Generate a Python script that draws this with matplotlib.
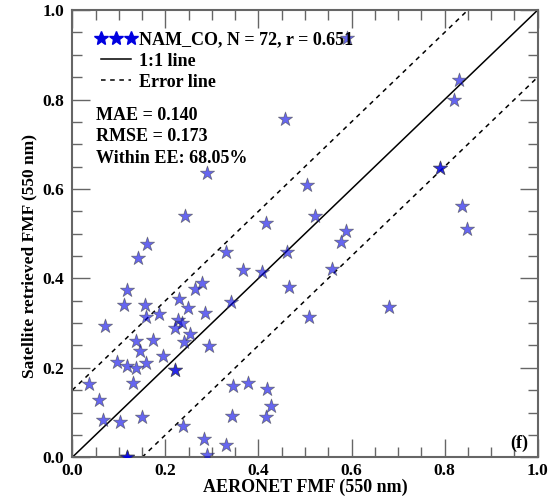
import matplotlib
matplotlib.use("Agg")
import matplotlib.pyplot as plt
from matplotlib.lines import Line2D
from matplotlib.legend_handler import HandlerLine2D
from matplotlib.ticker import MultipleLocator

# AERONET vs satellite-retrieved fine mode fraction, NAM_CO site
aeronet_fmf = [
    0.590, 0.831, 0.821, 0.790, 0.790, 0.838, 0.849, 0.505, 0.521, 0.588,
    0.577, 0.559, 0.509, 0.681, 0.458, 0.289, 0.242, 0.416, 0.161, 0.141,
    0.330, 0.461, 0.367, 0.408, 0.466, 0.279, 0.264, 0.230, 0.117, 0.111,
    0.157, 0.340, 0.158, 0.187, 0.249, 0.285, 0.228, 0.235, 0.221, 0.253,
    0.240, 0.070, 0.137, 0.173, 0.145, 0.294, 0.196, 0.097, 0.117, 0.137,
    0.158, 0.221, 0.221, 0.130, 0.036, 0.058, 0.065, 0.102, 0.149, 0.237,
    0.284, 0.330, 0.289, 0.117, 0.117, 0.345, 0.378, 0.419, 0.426, 0.416,
    0.344, 0.117,
]
satellite_fmf = [
    0.937, 0.843, 0.800, 0.647, 0.647, 0.562, 0.510, 0.610, 0.539, 0.506,
    0.481, 0.421, 0.314, 0.335, 0.757, 0.636, 0.539, 0.525, 0.477, 0.445,
    0.458, 0.458, 0.419, 0.415, 0.381, 0.390, 0.376, 0.355, 0.374, 0.340,
    0.340, 0.348, 0.314, 0.320, 0.333, 0.322, 0.307, 0.300, 0.288, 0.275,
    0.257, 0.294, 0.261, 0.262, 0.238, 0.249, 0.226, 0.214, 0.204, 0.200,
    0.211, 0.195, 0.195, 0.167, 0.164, 0.128, 0.083, 0.080, 0.089, 0.070,
    0.040, 0.027, 0.005, 0.000, 0.000, 0.159, 0.167, 0.152, 0.115, 0.091,
    0.093, 0.000,
]

one_to_one = [0.0, 1.0]
ee_offset = 0.15

site_label = "NAM_CO, N = 72, r = 0.651"
stats_lines = ["MAE = 0.140", "RMSE = 0.173", "Within EE: 68.05%"]
panel_tag = "(f)"
x_label = "AERONET FMF (550 nm)"
y_label = "Satellite retrieved FMF (550 nm)"

plt.rcParams["font.family"] = ["Liberation Serif", "DejaVu Serif"]
plt.rcParams["font.weight"] = "bold"

fig = plt.figure(figsize=(5.56, 5.03), dpi=100)
ax = fig.add_axes([0.130, 0.0909, 0.837, 0.889])

ax.scatter(aeronet_fmf, satellite_fmf, marker="*", s=115,
           facecolor=(0.0, 0.0, 0.9), edgecolor="#444444", linewidths=0.6,
           alpha=0.6, zorder=3)

ax.plot(one_to_one, one_to_one, color="black", lw=1.1, zorder=2)
ax.plot([0.0, 1.0 - ee_offset], [ee_offset, 1.0], color="black", lw=1.1,
        linestyle=(0, (3, 3)), zorder=2)
ax.plot([ee_offset, 1.0], [0.0, 1.0 - ee_offset], color="black", lw=1.1,
        linestyle=(0, (3, 3)), zorder=2)

ax.set_xlim(0, 1)
ax.set_ylim(0, 1)
ax.xaxis.set_major_locator(MultipleLocator(0.2))
ax.yaxis.set_major_locator(MultipleLocator(0.2))
ax.xaxis.set_minor_locator(MultipleLocator(0.05))
ax.yaxis.set_minor_locator(MultipleLocator(0.05))
ax.xaxis.set_major_formatter(lambda v, p: f"{v:.1f}")
ax.yaxis.set_major_formatter(lambda v, p: f"{v:.1f}")

for side in ax.spines.values():
    side.set_color("#666666")
    side.set_linewidth(1.5)

ax.tick_params(which="both", direction="in", top=True, right=True,
               color="#666666", width=1.0)
ax.tick_params(which="major", length=13, labelsize=12.5)
ax.tick_params(axis="x", which="major", pad=4)
ax.tick_params(axis="y", which="major", pad=6)
ax.tick_params(which="minor", length=7)

ax.set_xlabel(x_label, fontsize=13, fontweight="bold")
ax.set_ylabel(y_label, fontsize=12.5, fontweight="bold")
ax.xaxis.set_label_coords(0.5, -0.048)
ax.yaxis.set_label_coords(-0.075, 0.45)

star_handle = Line2D([], [], marker="*", linestyle="", markersize=10,
                     color=(0.0, 0.0, 0.88))
line_handle = Line2D([], [], color="black", lw=1.1)
dash_handle = Line2D([], [], color="black", lw=1.1, linestyle=(0, (3, 3)))
leg = ax.legend([star_handle, line_handle, dash_handle],
                [site_label, "1:1 line", "Error line"],
                handler_map={star_handle: HandlerLine2D(numpoints=3, marker_pad=0.0)},
                loc="upper left", bbox_to_anchor=(0.061, 0.952),
                frameon=False, borderpad=0.0, borderaxespad=0.0,
                handlelength=1.67, handletextpad=0.45, labelspacing=0.22,
                prop={"size": 13, "weight": "bold"})

for i, line in enumerate(stats_lines):
    ax.text(0.050, 0.765 - i * 0.048, line, transform=ax.transAxes,
            fontsize=13, fontweight="bold", ha="left", va="center")

ax.text(0.979, 0.032, panel_tag, transform=ax.transAxes, fontsize=13,
        fontweight="bold", ha="right", va="center")

fig.savefig("out.png", dpi=100)
